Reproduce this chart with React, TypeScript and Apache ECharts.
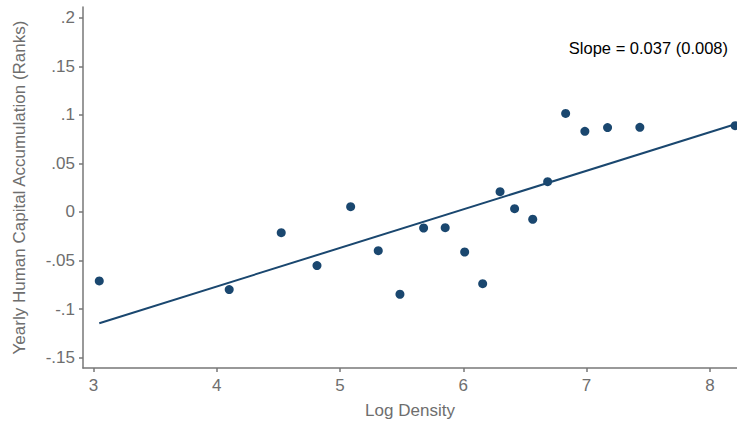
import React, { useEffect, useRef } from "react";
import * as echarts from "echarts";

const logDensity = [3.047, 4.101, 4.523, 4.813, 5.086, 5.31, 5.486, 5.678, 5.853, 6.011, 6.157, 6.298, 6.416, 6.563, 6.684, 6.83, 6.986, 7.17, 7.432, 8.205];
const hcAccum = [-0.071, -0.0799, -0.0213, -0.0552, 0.0055, -0.0398, -0.0847, -0.0165, -0.0162, -0.0412, -0.0738, 0.0209, 0.0034, -0.0075, 0.0312, 0.1015, 0.083, 0.0869, 0.0871, 0.0888];
const xTicks = [3, 4, 5, 6, 7, 8];
const yTicks = [-0.15, -0.1, -0.05, 0, 0.05, 0.1, 0.15, 0.2];
const slopeLabel = "Slope = 0.037 (0.008)";

function fitLine(xs: number[], ys: number[]) {
  const n = xs.length;
  const mx = xs.reduce((a, b) => a + b, 0) / n;
  const my = ys.reduce((a, b) => a + b, 0) / n;
  let sxy = 0, sxx = 0;
  for (let i = 0; i < n; i++) {
    sxy += (xs[i] - mx) * (ys[i] - my);
    sxx += (xs[i] - mx) * (xs[i] - mx);
  }
  const b = sxy / sxx;
  const a = my - b * mx;
  const x0 = Math.min(...xs), x1 = Math.max(...xs);
  return [[x0, a + b * x0], [x1, a + b * x1]];
}

const fmtY = (v: number) => {
  if (Math.abs(v) < 1e-9) return "0";
  const s = String(Math.round(v * 100) / 100);
  return s.replace(/^(-?)0\./, "$1.");
};

export default function App() {
  const ref = useRef<HTMLDivElement>(null);
  useEffect(() => {
    if (!ref.current) return;
    const chart = echarts.init(ref.current, null, { renderer: "svg" });
    const axisColor = "#777777";
    const labelColor = "#6e6e6e";
    const font = "Liberation Sans, Arial, sans-serif";
    chart.setOption({
      animation: false,
      backgroundColor: "#ffffff",
      grid: { left: 83, top: 7, right: 0, bottom: 56, containLabel: false },
      xAxis: {
        type: "value",
        min: 2.915,
        max: 8.22,
        name: "Log Density",
        nameLocation: "middle",
        nameGap: 34,
        nameTextStyle: { color: labelColor, fontSize: 17, fontFamily: font },
        splitLine: { show: false },
        axisLine: { show: true, onZero: false, lineStyle: { color: axisColor, width: 1.5 } },
        axisTick: { show: true, length: 4, customValues: xTicks, lineStyle: { color: axisColor, width: 1.5 } },
        axisLabel: { customValues: xTicks, color: labelColor, fontSize: 17, fontFamily: font, margin: 9 },
      },
      yAxis: {
        type: "value",
        min: -0.1606,
        max: 0.211,
        name: "Yearly Human Capital Accumulation (Ranks)",
        nameLocation: "middle",
        nameGap: 55,
        nameTextStyle: { color: labelColor, fontSize: 17, fontFamily: font },
        splitLine: { show: false },
        axisLine: { show: true, onZero: false, lineStyle: { color: axisColor, width: 1.5 } },
        axisTick: { show: true, length: 4, customValues: yTicks, lineStyle: { color: axisColor, width: 1.5 } },
        axisLabel: { customValues: yTicks, color: labelColor, fontSize: 17, fontFamily: font, margin: 8, formatter: (v: number) => fmtY(v) },
      },
      series: [
        {
          type: "scatter",
          data: logDensity.map((x, i) => [x, hcAccum[i]]),
          symbol: "circle",
          symbolSize: 9,
          itemStyle: { color: "#1a476f", opacity: 1 },
          z: 3,
        },
        {
          type: "line",
          data: fitLine(logDensity, hcAccum),
          symbol: "none",
          lineStyle: { color: "#1a476f", width: 2 },
          z: 2,
        },
      ],
      graphic: [
        {
          type: "text",
          right: 9,
          top: 39,
          style: { text: slopeLabel, fill: "#000000", fontSize: 16.5, fontFamily: font },
        },
      ],
    });
    return () => chart.dispose();
  }, []);
  return <div ref={ref} style={{ width: 737, height: 424, position: "absolute", left: 0, top: 0 }} />;
}
